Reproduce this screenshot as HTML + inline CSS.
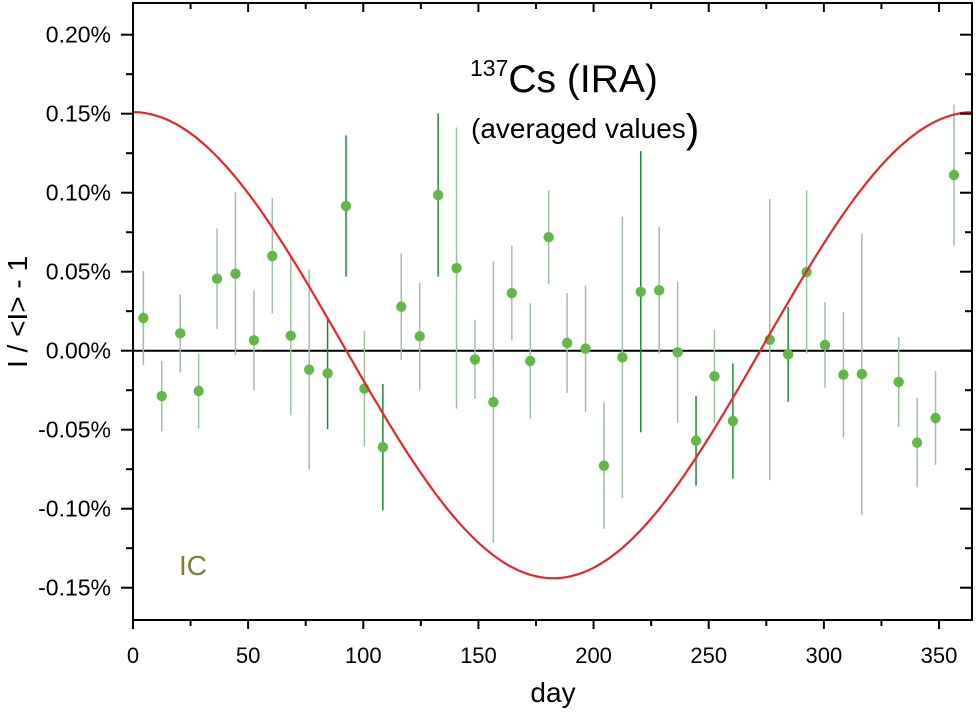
<!DOCTYPE html>
<html><head><meta charset="utf-8"><style>
body{margin:0;background:#fff}
svg{display:block;font-family:"Liberation Sans",Arial,sans-serif}
</style></head><body>
<svg id="chart" width="976" height="717" viewBox="0 0 976 717" xmlns="http://www.w3.org/2000/svg"></svg>
<script>
const days=[4.5,12.5,20.5,28.5,36.5,44.5,52.5,60.5,68.5,76.5,84.5,92.5,100.5,108.5,116.5,124.5,132.5,140.5,148.5,156.5,164.5,172.5,180.5,188.5,196.5,204.5,212.5,220.5,228.5,236.5,244.5,252.5,260.5,276.5,284.5,292.5,300.5,308.5,316.5,332.5,340.5,348.5,356.5];
const values=[0.0207,-0.0287,0.011,-0.0255,0.0456,0.0487,0.0066,0.060,0.0095,-0.012,-0.0143,0.0916,-0.024,-0.061,0.0279,0.0091,0.0985,0.0523,-0.0055,-0.0325,0.0365,-0.0065,0.0718,0.0049,0.0013,-0.0728,-0.0042,0.0373,0.0382,-0.001,-0.057,-0.0162,-0.0445,0.007,-0.0023,0.0498,0.0036,-0.0152,-0.0148,-0.0198,-0.0582,-0.0426,0.1112];
const errors=[0.0298,0.0223,0.0248,0.0238,0.0318,0.0516,0.0316,0.0365,0.0504,0.0633,0.0353,0.0447,0.0366,0.040,0.0338,0.0339,0.0516,0.089,0.0251,0.089,0.030,0.0365,0.0297,0.0316,0.040,0.040,0.089,0.089,0.040,0.0446,0.0284,0.0297,0.0365,0.089,0.030,0.0516,0.0271,0.0398,0.089,0.0285,0.0283,0.0297,0.0446];
const darkBar=[0,0,0,0,0,0,0,0,0,0,1,1,0,1,0,0,1,0,0,0,0,0,0,0,0,0,0,1,0,0,1,0,1,0,1,0,0,0,0,0,0,0,0];
const fitMean=0.0035, fitAmp=0.1475;
const yTickLabels=["0.20%","0.15%","0.10%","0.05%","0.00%","-0.05%","-0.10%","-0.15%"];
const yTickValues=[0.20,0.15,0.10,0.05,0.00,-0.05,-0.10,-0.15];
const xTickValues=[0,50,100,150,200,250,300,350];

const L=133,R=972,T=3,B=620;
const X=d=>L+d*(939-133)/350;
const Y=v=>350.7-v*1580;
const svg=document.getElementById('chart');
const NS='http://www.w3.org/2000/svg';
function mk(tag,attrs,parent){const e=document.createElementNS(NS,tag);for(const k in attrs)e.setAttribute(k,attrs[k]);(parent||svg).appendChild(e);return e;}
function txt(s,attrs){const e=mk('text',attrs);e.textContent=s;return e;}

let z=mk('line',{x1:L,x2:R,y1:Y(0),y2:Y(0),stroke:'#000','stroke-width':2});



const gBars=mk('g',{});


for(let i=0;i<days.length;i++){
  const x=X(days[i]);
  const b=mk('line',{x1:x,x2:x,y1:Y(values[i]+errors[i]),y2:Y(values[i]-errors[i]),stroke:darkBar[i]?'#1e8a35':'#9cc0a0','stroke-width':1.5},gBars);
  
  
}
for(let i=0;i<days.length;i++){
  const c=mk('circle',{cx:X(days[i]),cy:Y(values[i]),r:5.2,fill:'#62b846'},gBars);
  
  
}
let pts=[];
for(let d=0;d<=364.5;d+=1.5){pts.push(X(d).toFixed(1)+','+Y(fitMean+fitAmp*Math.cos(2*Math.PI*d/365)).toFixed(1));}
const fit=mk('polyline',{points:pts.join(' '),fill:'none',stroke:'#e8262a','stroke-width':2.2});



const fr=mk('rect',{x:L,y:T,width:R-L,height:B-T,fill:'none',stroke:'#000','stroke-width':2});



for(let d=0;d<=350;d+=25){
  const maj=d%50===0, x=X(d);
  mk('line',{x1:x,x2:x,y1:B,y2:B+(maj?9:6),stroke:'#000','stroke-width':2});
  mk('line',{x1:x,x2:x,y1:T,y2:T+(maj?9:6),stroke:'#000','stroke-width':2});
}
xTickValues.forEach(v=>{
  const t=txt(String(v),{x:X(v),y:663,'text-anchor':'middle','font-size':22});
  
  
});
for(let v=-0.15;v<=0.2001;v+=0.025){
  const maj=Math.round(v*1000)%50===0, y=Y(v);
  mk('line',{x1:L,x2:L-(maj?12:7),y1:y,y2:y,stroke:'#000','stroke-width':2});
  mk('line',{x1:R,x2:R-(maj?12:7),y1:y,y2:y,stroke:'#000','stroke-width':2});
}
yTickValues.forEach((v,i)=>{
  const t=txt(yTickLabels[i],{x:111,y:Y(v)+8,'text-anchor':'end','font-size':23});
  
  
});
let xt=txt('day',{x:553,y:702,'text-anchor':'middle','font-size':28});


let yt=txt('I / <I> - 1',{x:0,y:0,'text-anchor':'middle','font-size':28,transform:'translate(27,312) rotate(-90)'});


let ti=mk('text',{x:470,y:92,'font-size':39});


ti.innerHTML='<tspan font-size="23" dy="-16">137</tspan><tspan dy="16">Cs (IRA)</tspan>';
let st=mk('text',{x:471,y:138,'font-size':28});


st.innerHTML='(averaged values<tspan font-size="40" dy="4">)</tspan>';
let ic=txt('IC',{x:179,y:575,'font-size':28,fill:'#7d7d35'});


</script>
</body></html>
